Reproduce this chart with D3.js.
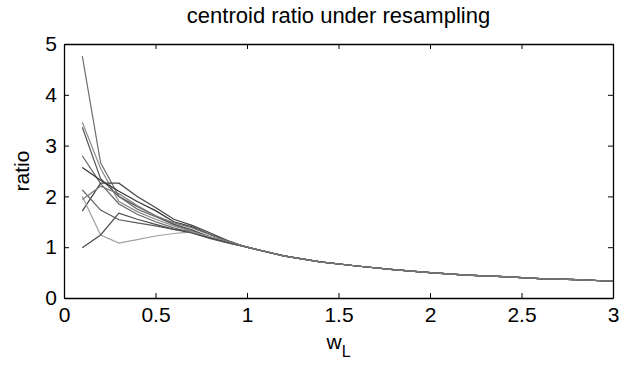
<!DOCTYPE html>
<html><head><meta charset="utf-8">
<script src="https://cdn.jsdelivr.net/npm/d3@7"></script>
<style>body{margin:0;background:#fff}svg{display:block}text{font-family:Arial,"Liberation Sans",Helvetica,sans-serif}</style>
</head><body>
<script>
const xValues = [0.1,0.2,0.3,0.4,0.5,0.6,0.7,0.8,0.9,1.0,1.2,1.4,1.6,1.8,2.0,2.2,2.4,2.6,2.8,3.0];
const tail = [0.83,0.71,0.63,0.56,0.50,0.45,0.42,0.38,0.36,0.33];
const s1  = [4.76,2.66,2.00,1.75,1.60,1.45,1.32,1.20,1.10,1.00];
const s2  = [3.46,2.55,1.90,1.70,1.55,1.42,1.30,1.18,1.08,1.00];
const s3  = [3.36,2.35,2.00,1.80,1.62,1.45,1.34,1.20,1.09,1.00];
const s4  = [2.80,2.25,1.85,1.65,1.50,1.38,1.28,1.17,1.08,1.00];
const s5  = [2.57,2.32,2.10,1.90,1.72,1.50,1.40,1.25,1.12,1.00];
const s6  = [1.71,2.26,2.26,2.00,1.78,1.55,1.43,1.28,1.12,1.00];
const s7  = [2.13,1.73,1.54,1.48,1.42,1.35,1.30,1.20,1.10,1.00];
const s8  = [2.00,1.24,1.08,1.15,1.22,1.27,1.30,1.20,1.10,1.00];
const s9  = [0.99,1.24,1.67,1.55,1.45,1.35,1.28,1.18,1.09,1.00];
const s10 = [1.94,2.20,2.05,1.82,1.62,1.48,1.38,1.24,1.11,1.00];
const seriesList = [s1,s2,s3,s4,s5,s6,s7,s8,s9,s10];
const seriesColors = ["#6e6e6e","#8c8c8c","#555555","#666666","#333333","#444444","#5a5a5a","#a0a0a0","#4a4a4a","#7a7a7a"];
const xTicks = [0,0.5,1,1.5,2,2.5,3];
const xTickLabels = ["0","0.5","1","1.5","2","2.5","3"];
const yTicks = [0,1,2,3,4,5];

(function(){
const W=633,H=365;
const m={left:64,right:20,top:44,bottom:67};
const svg=d3.select("body").append("svg").attr("width",W).attr("height",H);
const x=d3.scaleLinear().domain([0,3]).range([m.left,W-m.right]);
const y=d3.scaleLinear().domain([0,5]).range([H-m.bottom,m.top]);

const line=d3.line().x(d=>x(d[0])).y(d=>y(d[1]));
seriesList.forEach((s,i)=>{
  const vals=s.concat(tail);
  const pts=xValues.map((xv,j)=>[xv,vals[j]]);
  svg.append("path").attr("d",line(pts)).attr("fill","none")
    .attr("stroke",seriesColors[i]).attr("stroke-width",1.2);
});

const fs=21;
const tl=5;
const gB=svg.append("g").attr("transform",`translate(0,${y(0)})`)
  .call(d3.axisBottom(x).tickValues(xTicks).tickFormat((d,i)=>xTickLabels[i]).tickSizeInner(-tl).tickSizeOuter(0).tickPadding(9));
const gT=svg.append("g").attr("transform",`translate(0,${y(5)})`)
  .call(d3.axisTop(x).tickValues(xTicks).tickFormat("").tickSizeInner(-tl).tickSizeOuter(0));
const gL=svg.append("g").attr("transform",`translate(${x(0)},0)`)
  .call(d3.axisLeft(y).tickValues(yTicks).tickFormat(d3.format("d")).tickSizeInner(-tl).tickSizeOuter(0).tickPadding(7));
const gR=svg.append("g").attr("transform",`translate(${x(3)},0)`)
  .call(d3.axisRight(y).tickValues(yTicks).tickFormat("").tickSizeInner(-tl).tickSizeOuter(0));
[gB,gT,gL,gR].forEach(g=>{
  g.selectAll("path.domain").attr("stroke","#000").attr("stroke-width",1.3);
  g.selectAll(".tick line").attr("stroke","#000").attr("stroke-width",1);
  g.selectAll("text").attr("fill","#000").style("font-size",fs+"px").style("font-family","Arial, 'Liberation Sans', sans-serif");
});

svg.append("text").attr("x",(x(0)+x(3))/2).attr("y",23).attr("text-anchor","middle")
  .style("font-size","22px").text("centroid ratio under resampling");

const xl=svg.append("text").attr("x",(x(0)+x(3))/2).attr("y",349).attr("text-anchor","middle").style("font-size",fs+"px");
xl.append("tspan").text("w");
xl.append("tspan").attr("dy",8).style("font-size","16px").text("L");

svg.append("text").attr("transform",`translate(29,${(y(0)+y(5))/2}) rotate(-90)`)
  .attr("text-anchor","middle").style("font-size",fs+"px").text("ratio");
})();
</script>
</body></html>
